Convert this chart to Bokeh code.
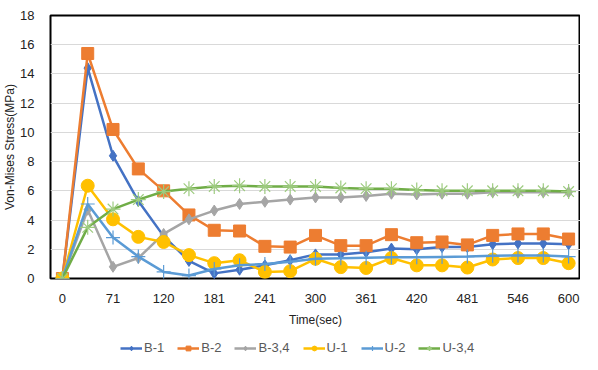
from bokeh.plotting import figure
from bokeh.layouts import column
from bokeh.models import Range1d, FixedTicker, Legend, LegendItem
from bokeh.embed import file_html
from bokeh.resources import INLINE

time_sec = [0, 35, 71, 95, 120, 150, 181, 210, 241, 270, 300, 330, 361, 390, 420, 450, 481, 515, 546, 575, 600]

b1 = [0, 14.4, 8.4, 5.3, 2.9, 1.2, 0.35, 0.6, 0.9, 1.25, 1.65, 1.65, 1.8, 2.05, 2.0, 2.15, 2.15, 2.35, 2.4, 2.4, 2.35]
b2 = [0, 15.4, 10.2, 7.5, 6.0, 4.35, 3.3, 3.25, 2.2, 2.15, 2.95, 2.25, 2.25, 3.0, 2.45, 2.5, 2.3, 2.95, 3.05, 3.05, 2.7]
b34 = [0, 4.7, 0.8, 1.4, 3.05, 4.05, 4.65, 5.1, 5.25, 5.4, 5.55, 5.55, 5.65, 5.8, 5.75, 5.8, 5.8, 5.9, 5.9, 5.9, 5.9]
u1 = [0, 6.35, 4.05, 2.85, 2.5, 1.6, 1.05, 1.25, 0.45, 0.5, 1.35, 0.78, 0.72, 1.4, 0.9, 0.9, 0.75, 1.3, 1.4, 1.4, 1.05]
u2 = [0, 5.1, 2.8, 1.5, 0.45, 0.2, 0.65, 0.9, 1.0, 1.15, 1.35, 1.38, 1.42, 1.45, 1.45, 1.48, 1.5, 1.55, 1.58, 1.58, 1.5]
u34 = [0, 3.5, 4.75, 5.4, 5.95, 6.15, 6.3, 6.35, 6.3, 6.3, 6.3, 6.2, 6.15, 6.15, 6.05, 6.0, 6.0, 6.0, 6.0, 6.0, 5.95]

names = ["B-1", "B-2", "B-3,4", "U-1", "U-2", "U-3,4"]
series = [b1, b2, b34, u1, u2, u34]
colors = ["#4472C4", "#ED7D31", "#A5A5A5", "#FFC000", "#5B9BD5", "#70AD47"]
markers = ["diamond", "square", "diamond", "circle", "cross", "asterisk"]
msizes = [11, 12, 11, 13, 14, 15]
mcolors = ["#4472C4", "#ED7D31", "#A5A5A5", "#FFC000", "#5B9BD5", "#9DCB7F"]

idx = list(range(len(time_sec)))
FONT = "Liberation Sans"


def draw_series(fig):
    rs = []
    for name, ys, c, m, ms, mc in zip(names, series, colors, markers, msizes, mcolors):
        ln = fig.line(idx, ys, line_color=c, line_width=2.5)
        if m in ("cross", "asterisk"):
            sc = fig.scatter(idx, ys, marker=m, size=ms, line_color=mc, line_width=1.2, fill_color=None)
        else:
            sc = fig.scatter(idx, ys, marker=m, size=ms, fill_color=c, line_color=c)
        rs.append(LegendItem(label=name, renderers=[ln, sc]))
    return rs


p = figure(frame_width=530, frame_height=263, output_backend="svg", toolbar_location=None,
           x_range=Range1d(-0.47, 20.47), y_range=Range1d(0, 18),
           min_border_left=50, min_border_right=0, min_border_top=15, min_border_bottom=0)

p.outline_line_color = "black"
p.outline_line_width = 2
p.xgrid.grid_line_color = None
p.ygrid.grid_line_color = "#D9D9D9"
p.ygrid.grid_line_width = 1

p.xaxis.ticker = FixedTicker(ticks=[i for i in idx if i % 2 == 0])
p.xaxis.major_label_overrides = {i: str(time_sec[i]) for i in idx if i % 2 == 0}
p.yaxis.ticker = FixedTicker(ticks=list(range(0, 19, 2)))
for ax in (p.xaxis[0], p.yaxis[0]):
    ax.axis_line_color = None
    ax.major_tick_line_color = None
    ax.minor_tick_line_color = None
    ax.major_label_text_font = FONT
    ax.major_label_text_font_size = "13px"
    ax.major_label_text_color = "#222222"
    ax.axis_label_text_font = FONT
    ax.axis_label_text_font_size = "12px"
    ax.axis_label_text_font_style = "normal"
    ax.axis_label_text_color = "#222222"
p.xaxis.axis_label = "Time(sec)"
p.yaxis.axis_label = "Von-Mises Stress(MPa)"
p.xaxis.major_label_standoff = 9
p.xaxis.axis_label_standoff = 7
p.yaxis.major_label_standoff = 10
p.yaxis.axis_label_standoff = 0

draw_series(p)

# legend strip below the chart: same series, drawn outside its visible range so only the key shows
lf = figure(width=580, height=26, output_backend="svg", toolbar_location=None,
            x_range=Range1d(1000, 1001), y_range=Range1d(1000, 1001),
            min_border=0, x_axis_type=None, y_axis_type=None)
lf.outline_line_color = None
lf.xgrid.grid_line_color = None
lf.ygrid.grid_line_color = None
items = draw_series(lf)
legend = Legend(items=items, orientation="horizontal", location=(70, 0),
                label_text_font=FONT, label_text_font_size="13px", label_text_color="#595959",
                glyph_width=22, glyph_height=12, label_height=12, spacing=13, label_standoff=2,
                border_line_color=None, background_fill_alpha=0, margin=0, padding=1)
lf.add_layout(legend, "center")

open("out.html", "w").write(file_html(column(p, lf), INLINE))
